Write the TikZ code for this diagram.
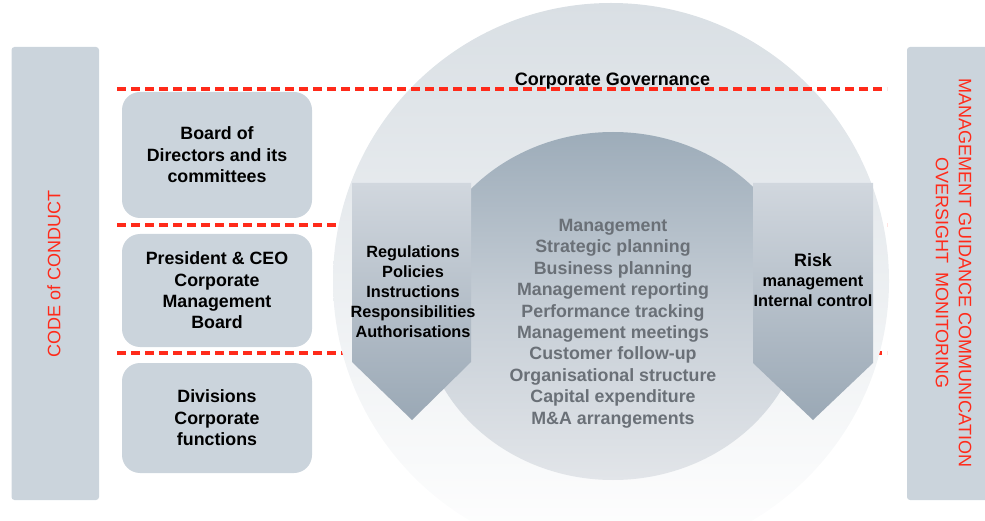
\documentclass[tikz,border=0pt]{standalone}
\usepackage{fontspec}
\setmainfont{Liberation Sans}
\definecolor{barfill}{HTML}{CBD4DC}
\definecolor{linered}{HTML}{FF2A1A}
\definecolor{midgray}{HTML}{6A7077}
\definecolor{ringtop}{HTML}{D9DFE4}
\definecolor{ringbot}{HTML}{FFFFFF}
\definecolor{coretop}{HTML}{9DACB9}
\definecolor{coremid}{HTML}{C6CED6}
\definecolor{corebot}{HTML}{E2E5E9}
\definecolor{arrtop}{HTML}{D1D7DE}
\definecolor{arrbot}{HTML}{9AA8B5}
\begin{document}
\begin{tikzpicture}[x=1pt,y=-1pt,
  sidebar/.style={fill=barfill, rounded corners=3pt},
  tier/.style={fill=barfill, rounded corners=18pt, minimum width=190pt,
    align=center, inner sep=0pt,
    font=\fontsize{17.8}{21.4}\selectfont\bfseries},
  sepline/.style={draw=linered, line width=3.5pt, dash pattern=on 9pt off 5pt},
  redtext/.style={text=linered, align=center, inner sep=0pt,
    font=\fontsize{18}{23}\selectfont},
  downarrow/.style={top color=arrtop, bottom color=arrbot, draw=none},
  arrowtext/.style={align=center, inner sep=0pt, anchor=north,
    font=\fontsize{16.3}{20.2}\selectfont\bfseries},
  coretext/.style={align=center, inner sep=0pt, anchor=north, text=midgray,
    font=\fontsize{17.8}{21.4}\selectfont\bfseries}]
\useasboundingbox (0,0) rectangle (985,521);

% side bars
\fill[sidebar] (11.5,47) rectangle (99,500);
\fill[sidebar] (907,47) rectangle (1000,500);

% management tiers
\node[tier, minimum height=126pt] (board) at (217,155)
  {Board of\\Directors and its\\committees};
\node[tier, minimum height=113pt] (ceo) at (217,290.5)
  {President \& CEO\\Corporate\\Management\\Board};
\node[tier, minimum height=110pt] (div) at (217,418)
  {Divisions\\Corporate\\functions};

% separators between tiers (behind the circle)
\draw[sepline] (117,225) -- (887,225);
\draw[sepline] (117,353) -- (887,353);

% governance circle and its core
\shade[top color=ringtop, bottom color=ringbot] (611,281) circle (278);
\shade[top color=coretop, bottom color=corebot, middle color=coremid]
  (613,306) ellipse [x radius=192, y radius=174];

% downward arrows
\shade[downarrow] (352,183) -- (471,183) -- (471,362) -- (412,420) -- (352,362) -- cycle;
\shade[downarrow] (753,183) -- (873,183) -- (873,363) -- (813,420) -- (753,363) -- cycle;

% top separator
\draw[sepline] (117,89) -- (887,89);

% texts
\node[anchor=base, inner sep=0pt, font=\fontsize{18}{21}\selectfont\bfseries]
  (gov) at (612.5,86) {Corporate Governance};
\node[coretext] (core) at (613,219)
  {Management\\Strategic planning\\Business planning\\Management reporting\\
   Performance tracking\\Management meetings\\Customer follow-up\\
   Organisational structure\\Capital expenditure\\M\&A arrangements};
\node[arrowtext] (rules) at (413,245)
  {Regulations\\Policies\\Instructions\\Responsibilities\\Authorisations};
\node[arrowtext] (risk) at (813,253)
  {{\fontsize{17.9}{20}\selectfont Risk}\\management\\Internal control};
\node[redtext, rotate=90] (code) at (54,274) {CODE of CONDUCT};
\node[redtext, rotate=-90] (mgmt) at (953.5,273)
  {MANAGEMENT GUIDANCE COMMUNICATION\\OVERSIGHT\hspace{4pt} MONITORING};
\end{tikzpicture}
\end{document}
